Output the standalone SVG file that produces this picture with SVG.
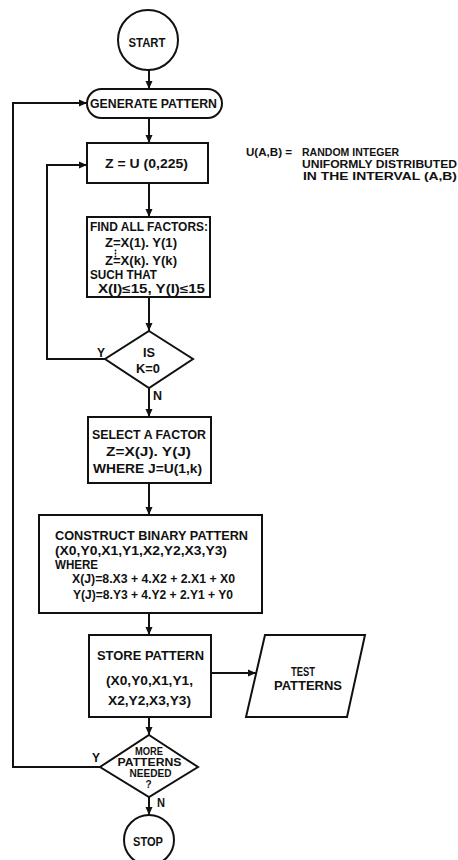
<svg xmlns="http://www.w3.org/2000/svg" width="458" height="860" viewBox="0 0 458 860">
<style>
.s{fill:#fff;stroke:#111;stroke-width:2}
.t{font-family:"Liberation Sans",Arial,sans-serif;font-weight:bold;font-size:12px;fill:#111}
.m{text-anchor:middle}
.big{font-size:13px}
.sm{font-size:10px}
.n{font-size:11px}
.c{fill:none;stroke:#111;stroke-width:2}
</style>
<defs>
<marker id="ah" markerUnits="userSpaceOnUse" markerWidth="9" markerHeight="8" refX="8" refY="4" orient="auto">
<path d="M0,0.5 L8,4 L0,7.5 z" fill="#111"/>
</marker>
</defs>
<rect width="458" height="860" fill="#fff"/>
<g id="connectors" class="c" marker-end="url(#ah)">
<path d="M149,70 V89"/>
<path d="M149,118 V143"/>
<path d="M149,183 V217"/>
<path d="M149,297 V331"/>
<path d="M105,359 H47 V165 H87"/>
<path d="M149,388 V417"/>
<path d="M149,483 V515"/>
<path d="M149,613 V635"/>
<path d="M211,673 H256"/>
<path d="M149,717 V735"/>
<path d="M100,767 H13 V103 H87"/>
<path d="M149,797 V815"/>
</g>
<g id="labels" class="t">
<text x="97" y="357" textLength="8" lengthAdjust="spacingAndGlyphs">Y</text>
<text x="153" y="400" textLength="9" lengthAdjust="spacingAndGlyphs">N</text>
<text x="92" y="762" textLength="8" lengthAdjust="spacingAndGlyphs">Y</text>
<text x="157" y="807" textLength="8" lengthAdjust="spacingAndGlyphs">N</text>
</g>
<g id="start">
<circle class="s" cx="148" cy="40" r="30"/>
<text class="t m big" x="147" y="47" textLength="37" lengthAdjust="spacingAndGlyphs">START</text>
</g>
<g id="generate">
<rect class="s" x="87" y="89" width="135" height="29" rx="14.5"/>
<text class="t m big" x="153.5" y="108" textLength="127" lengthAdjust="spacingAndGlyphs">GENERATE PATTERN</text>
</g>
<g id="zrand">
<rect class="s" x="87" y="143" width="121" height="40"/>
<text class="t m big" x="146.5" y="168" textLength="83" lengthAdjust="spacingAndGlyphs">Z = U (0,225)</text>
</g>
<g id="factors">
<rect class="s" x="87" y="217" width="123" height="80"/>
<text class="t" x="90" y="231" textLength="118" lengthAdjust="spacingAndGlyphs">FIND ALL FACTORS:</text>
<text class="t" x="105" y="247" textLength="72" lengthAdjust="spacingAndGlyphs">Z=X(1). Y(1)</text>
<circle cx="115.5" cy="250.5" r="0.9" fill="#111"/>
<circle cx="115.5" cy="253.5" r="0.9" fill="#111"/>
<circle cx="115.5" cy="256.5" r="0.9" fill="#111"/>
<text class="t" x="105" y="265" textLength="72" lengthAdjust="spacingAndGlyphs">Z=X(k). Y(k)</text>
<text class="t" x="90" y="279" textLength="67" lengthAdjust="spacingAndGlyphs">SUCH THAT</text>
<text class="t" x="98" y="293" textLength="107" lengthAdjust="spacingAndGlyphs">X(I)≤15, Y(I)≤15</text>
</g>
<g id="isk0">
<polygon class="s" points="149,331 193,359 149,388 105,359"/>
<text class="t m" x="149" y="357" textLength="12" lengthAdjust="spacingAndGlyphs">IS</text>
<text class="t m" x="148" y="373" textLength="24" lengthAdjust="spacingAndGlyphs">K=0</text>
</g>
<g id="select">
<rect class="s" x="88" y="417" width="123" height="66"/>
<text class="t m" x="149" y="439" textLength="114" lengthAdjust="spacingAndGlyphs">SELECT A FACTOR</text>
<text class="t m" x="148.5" y="456" textLength="85" lengthAdjust="spacingAndGlyphs">Z=X(J). Y(J)</text>
<text class="t m" x="147.5" y="473" textLength="109" lengthAdjust="spacingAndGlyphs">WHERE J=U(1,k)</text>
</g>
<g id="construct">
<rect class="s" x="39" y="515" width="223" height="98"/>
<text class="t" x="55" y="540" textLength="193" lengthAdjust="spacingAndGlyphs">CONSTRUCT BINARY PATTERN</text>
<text class="t" x="55" y="555" textLength="172" lengthAdjust="spacingAndGlyphs">(X0,Y0,X1,Y1,X2,Y2,X3,Y3)</text>
<text class="t" x="55" y="569" textLength="43" lengthAdjust="spacingAndGlyphs">WHERE</text>
<text class="t" x="72" y="583" textLength="163" lengthAdjust="spacingAndGlyphs">X(J)=8.X3 + 4.X2 + 2.X1 + X0</text>
<text class="t" x="73" y="599" textLength="160" lengthAdjust="spacingAndGlyphs">Y(J)=8.Y3 + 4.Y2 + 2.Y1 + Y0</text>
</g>
<g id="store">
<rect class="s" x="89" y="635" width="122" height="82"/>
<text class="t m" x="150.5" y="660" textLength="107" lengthAdjust="spacingAndGlyphs">STORE PATTERN</text>
<text class="t m" x="149.5" y="685" textLength="87" lengthAdjust="spacingAndGlyphs">(X0,Y0,X1,Y1,</text>
<text class="t m" x="149.5" y="705" textLength="83" lengthAdjust="spacingAndGlyphs">X2,Y2,X3,Y3)</text>
</g>
<g id="testpatterns">
<polygon class="s" points="265,635 365,635 347,717 246,717"/>
<text class="t m" x="303" y="676" textLength="24" lengthAdjust="spacingAndGlyphs">TEST</text>
<text class="t m" x="308" y="690" textLength="68" lengthAdjust="spacingAndGlyphs">PATTERNS</text>
</g>
<g id="more">
<polygon class="s" points="149,735 198,767 149,797 100,767"/>
<text class="t m sm" x="149" y="755" textLength="28" lengthAdjust="spacingAndGlyphs">MORE</text>
<text class="t m sm" x="149.5" y="766" textLength="64" lengthAdjust="spacingAndGlyphs">PATTERNS</text>
<text class="t m sm" x="150.5" y="777" textLength="42" lengthAdjust="spacingAndGlyphs">NEEDED</text>
<text class="t m sm" x="148.5" y="788">?</text>
</g>
<g id="stop">
<circle class="s" cx="149" cy="840" r="25"/>
<text class="t m big" x="148" y="846" textLength="30" lengthAdjust="spacingAndGlyphs">STOP</text>
</g>
<g id="note" class="t n">
<text x="246" y="156" textLength="46" lengthAdjust="spacingAndGlyphs">U(A,B) =</text>
<text x="302" y="156" textLength="97" lengthAdjust="spacingAndGlyphs">RANDOM INTEGER</text>
<text x="302" y="168" textLength="155" lengthAdjust="spacingAndGlyphs">UNIFORMLY DISTRIBUTED</text>
<text x="303" y="180" textLength="154" lengthAdjust="spacingAndGlyphs">IN THE INTERVAL (A,B)</text>
</g>
</svg>
